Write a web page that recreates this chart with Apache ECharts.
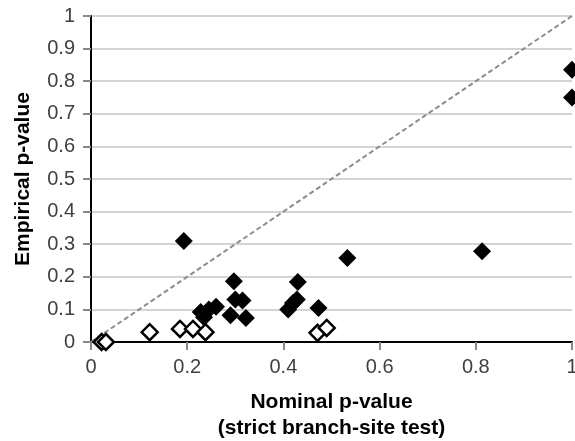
<!DOCTYPE html>
<html>
<head>
<meta charset="utf-8">
<script src="https://cdn.jsdelivr.net/npm/echarts@6/dist/echarts.min.js"></script>
<style>
  html, body { margin: 0; padding: 0; background: #fff; overflow: hidden; }
  #chart { width: 575px; height: 441px; }
</style>
</head>
<body>
<div id="chart"></div>
<script>
// Nominal vs empirical p-values, strict branch-site test
const filledNominal   = [0.193, 0.297, 0.300, 0.315, 0.322, 0.290, 0.228, 0.235, 0.245, 0.260, 0.410, 0.420, 0.428, 0.430, 0.473, 0.533, 0.813, 1.000, 1.000];
const filledEmpirical = [0.310, 0.186, 0.130, 0.127, 0.074, 0.082, 0.092, 0.076, 0.100, 0.108, 0.100, 0.120, 0.130, 0.184, 0.104, 0.258, 0.278, 0.835, 0.750];

const openNominal   = [0.022, 0.031, 0.122, 0.185, 0.212, 0.238, 0.471, 0.490];
const openEmpirical = [0.000, 0.000, 0.030, 0.040, 0.040, 0.030, 0.028, 0.043];

const diagonal = [[0, 0], [1, 1]];

const xTicks = [0, 0.2, 0.4, 0.6, 0.8, 1];
const yTicks = [0, 0.1, 0.2, 0.3, 0.4, 0.5, 0.6, 0.7, 0.8, 0.9, 1];

const pairs = (xs, ys) => xs.map((x, i) => [x, ys[i]]);

const chart = echarts.init(document.getElementById('chart'), null, { renderer: 'canvas' });
const font = "'Liberation Sans', Arial, sans-serif";

chart.setOption({
  animation: false,
  backgroundColor: '#ffffff',
  grid: { left: 91, right: 3, top: 16, bottom: 99, containLabel: false, outerBoundsMode: 'none' },
  xAxis: {
    type: 'value',
    min: 0, max: 1, interval: 0.2,
    name: 'Nominal p-value\n(strict branch-site test)',
    nameLocation: 'middle',
    nameGap: 47,
    nameTextStyle: { fontFamily: font, fontSize: 21, fontWeight: 'bold', color: '#000', lineHeight: 26, verticalAlign: 'top' },
    axisLine: { show: true, onZero: false, lineStyle: { color: '#000', width: 2 } },
    axisTick: { show: true, inside: false, length: 8, lineStyle: { color: '#888', width: 2 } },
    axisLabel: { fontFamily: font, fontSize: 20, color: '#404040', margin: 15, hideOverlap: false,
      formatter: v => (xTicks.includes(+v.toFixed(1)) ? String(+v.toFixed(1)) : '') },
    splitLine: { show: false }
  },
  yAxis: {
    type: 'value',
    min: 0, max: 1, interval: 0.1,
    name: 'Empirical p-value',
    nameLocation: 'middle',
    nameGap: 57,
    nameRotate: 90,
    nameTextStyle: { fontFamily: font, fontSize: 21, fontWeight: 'bold', color: '#000' },
    axisLine: { show: true, onZero: false, lineStyle: { color: '#000', width: 2 } },
    axisTick: { show: true, inside: false, length: 8, lineStyle: { color: '#888', width: 2 } },
    axisLabel: { fontFamily: font, fontSize: 20, color: '#404040', margin: 16, hideOverlap: false,
      formatter: v => (yTicks.includes(+v.toFixed(1)) ? String(+v.toFixed(1)) : '') },
    splitLine: { show: true, lineStyle: { color: '#d4d4d4', width: 2 } }
  },
  series: [
    {
      type: 'line',
      data: diagonal,
      symbol: 'none',
      silent: true,
      lineStyle: { color: '#8c8c8c', width: 2, type: [5, 3] },
      z: 1
    },
    {
      type: 'scatter',
      data: pairs(openNominal, openEmpirical),
      symbol: 'diamond',
      symbolSize: 16,
      clip: false,
      itemStyle: { color: '#ffffff', borderColor: '#000', borderWidth: 2.5, opacity: 1 },
      z: 3
    },
    {
      type: 'scatter',
      data: pairs(filledNominal, filledEmpirical),
      symbol: 'diamond',
      symbolSize: 18,
      clip: false,
      itemStyle: { color: '#000', opacity: 1 },
      z: 4
    }
  ]
});
</script>
</body>
</html>
